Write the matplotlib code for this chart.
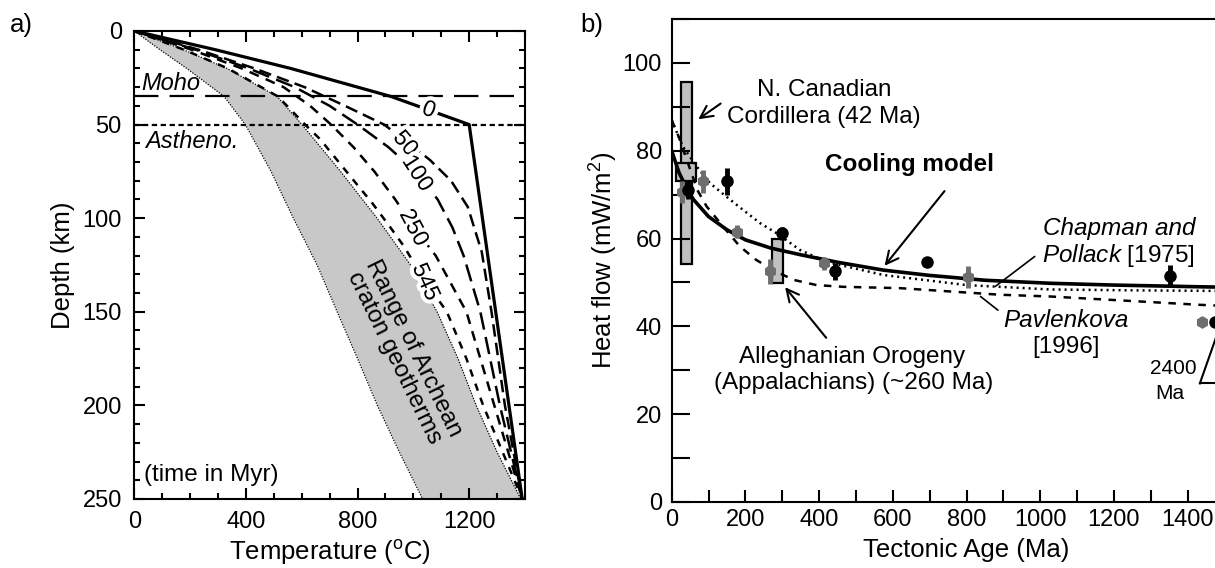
"""Two-panel figure: cooling geotherms (a) and heat flow vs tectonic age (b)."""

import matplotlib
matplotlib.use("Agg")
import matplotlib.pyplot as plt
import matplotlib.patheffects as pe
from matplotlib.patches import Rectangle
from matplotlib.ticker import MultipleLocator

plt.rcParams["font.family"] = ["Liberation Sans", "DejaVu Sans"]
plt.rcParams["mathtext.fontset"] = "custom"
plt.rcParams["mathtext.rm"] = "Liberation Sans"
plt.rcParams["mathtext.it"] = "Liberation Sans:italic"

FS = 17        # tick labels
FS_LAB = 18.5  # axis labels
FS_TXT = 17.5  # annotations

# === Panel a: geotherms (T in C, depth in km) ===
T_0 = [0, 290, 560, 920, 1200, 1390]
Z_0 = [0, 10, 20, 35, 50, 250]

Z_50 = [0, 10, 20, 30, 40, 50, 60, 69, 80, 94, 118, 150, 200, 250]
T_50 = [0, 230, 430, 610, 755, 895, 985, 1060, 1135, 1195, 1245, 1280, 1328, 1390]

Z_100 = [0, 10, 20, 30, 40, 50, 62, 76, 90, 105, 120, 150, 200, 250]
T_100 = [0, 220, 410, 575, 700, 800, 910, 1015, 1087, 1140, 1180, 1240, 1310, 1390]

Z_250 = [0, 10, 20, 30, 40, 50, 62, 75, 90, 105, 120, 150, 200, 250]
T_250 = [0, 205, 385, 535, 630, 705, 785, 860, 935, 1002, 1080, 1190, 1290, 1390]

Z_545 = [0, 10, 20, 35, 50, 58, 69, 80, 92, 105, 115, 133, 150, 175, 200, 225, 250]
T_545 = [0, 178, 335, 515, 612, 667, 727, 787, 853, 918, 966, 1039, 1120, 1190, 1250, 1320, 1390]

Z_SHADE = [0, 10, 20, 35, 50, 75, 100, 125, 150, 175, 200, 225, 250]
T_SHADE_LO = [0, 92, 188, 322, 398, 490, 570, 655, 727, 800, 871, 950, 1033]
T_SHADE_HI = [0, 176, 332, 512, 601, 739, 870, 990, 1085, 1160, 1225, 1300, 1385]

MOHO_DEPTH = 35
ASTHENO_DEPTH = 50

# inline curve labels: text, T, z, rotation
CURVE_LABELS = [("0", 1056, 42, -20), ("50", 972, 60, -50), ("100", 1015, 76, -57),
                ("250", 1002, 105, -62), ("545", 1045, 134, -66)]

# === Panel b: heat flow vs tectonic age ===
AGE_COOL = [0, 20, 45, 60, 100, 150, 200, 270, 350, 450, 575, 700, 850, 1030, 1200, 1440, 1600]
HF_COOL = [80, 75, 70.7, 68.8, 65, 62, 59.7, 57.8, 56.3, 54.6, 52.8, 51.6, 50.5, 49.8, 49.4, 49.0, 48.8]

AGE_CP = [0, 30, 68, 104, 149, 194, 240, 285, 348, 420, 574, 800, 1027, 1250, 1600]
HF_CP = [87, 81, 76.4, 72.6, 69.5, 66.5, 63.5, 61.2, 57.4, 54.7, 51.7, 49.4, 48.4, 48.2, 48.0]

AGE_PAV = [0, 20, 45, 70, 95, 140, 185, 230, 276, 330, 393, 466, 619, 891, 1027, 1434, 1600]
HF_PAV = [87, 83, 77, 71, 67.3, 62.7, 58.2, 55.1, 52.8, 50.6, 49.4, 49.0, 48.7, 47.2, 46.8, 44.9, 44.3]

AGE_BLACK = [45, 149, 299, 444, 694, 1351, 1473]
HF_BLACK = [71, 73, 61.2, 52.5, 54.6, 51.5, 41]
ERR_BLACK = [2, 3, 1.5, 2, 0, 2.5, 1]

AGE_GRAY = [27, 86, 178, 267, 414, 804, 1440]
HF_GRAY = [70.7, 73, 61.6, 52.5, 54.4, 51.3, 41.1]
ERR_GRAY = [2.5, 2.7, 1.5, 2.8, 1.5, 2.5, 1]

# boxes: age_min, age_max, hf_min, hf_max
BOX_CORDILLERA = (25, 54, 54.2, 95.7)
BOX_SMALL = (12, 66, 73, 77.2)
BOX_ALLEGHANIAN = (271, 303, 49.8, 60)

fig = plt.figure(figsize=(12.15, 5.68), dpi=100)

# ---------------- Panel a ----------------
ax = fig.add_axes([0.1105, 0.1215, 0.3216, 0.824])
ax.fill_betweenx(Z_SHADE, T_SHADE_LO, T_SHADE_HI, color="#c8c8c8", lw=0, zorder=1)
ax.plot(T_SHADE_LO, Z_SHADE, color="black", lw=0.9, ls=(0, (1, 1.2)), zorder=2)
ax.plot(T_SHADE_HI, Z_SHADE, color="black", lw=0.9, ls=(0, (1, 1.2)), zorder=2)

ax.axhline(MOHO_DEPTH, color="black", lw=1.6, ls=(0, (11, 5)), zorder=3)
ax.axhline(ASTHENO_DEPTH, color="black", lw=1.6, ls=(0, (2.4, 1.6)), zorder=3)

ax.plot(T_0, Z_0, color="black", lw=2.3, zorder=4)
ax.plot(T_50, Z_50, color="black", lw=1.8, ls=(0, (5, 2.5)), zorder=4)
ax.plot(T_100, Z_100, color="black", lw=1.8, ls=(0, (7, 3)), zorder=4)
ax.plot(T_250, Z_250, color="black", lw=1.8, ls=(0, (4, 3)), zorder=4)
ax.plot(T_545, Z_545, color="black", lw=1.8, ls=(0, (3, 3)), zorder=4)

# white halo around the inline labels breaks the curves under them
halo = [pe.withStroke(linewidth=6, foreground="white")]
for txt, t, z, rot in CURVE_LABELS:
    ax.text(t, z, txt, fontsize=FS_TXT - 1, rotation=rot, ha="center", va="center",
            rotation_mode="anchor", zorder=6, path_effects=halo)

ax.text(25, MOHO_DEPTH - 0.8, "Moho", fontsize=FS_TXT - 0.5, style="italic", va="bottom", zorder=5)
ax.text(40, 59, "Astheno.", fontsize=FS_TXT - 0.5, style="italic", va="center", zorder=5)
ax.text(35, 237, "(time in Myr)", fontsize=FS_TXT, va="center")
ax.text(965, 172, "Range of Archean\ncraton geotherms", fontsize=FS_TXT, rotation=-64,
        ha="center", va="center", rotation_mode="anchor", linespacing=1.0, zorder=5)

ax.set_xlim(0, 1400)
ax.set_ylim(250, 0)
ax.xaxis.set_major_locator(MultipleLocator(400))
ax.xaxis.set_minor_locator(MultipleLocator(100))
ax.yaxis.set_major_locator(MultipleLocator(50))
ax.yaxis.set_minor_locator(MultipleLocator(10))
ax.tick_params(which="both", direction="in", top=True, right=True, width=1.5,
               labelsize=FS)
ax.tick_params(which="major", length=8, pad=9)
ax.tick_params(which="minor", length=4.5)
for sp in ax.spines.values():
    sp.set_linewidth(1.5)
ax.set_xlabel("Temperature ($^{\\rm o}$C)", fontsize=FS_LAB, labelpad=3)
ax.set_ylabel("Depth (km)", fontsize=FS_LAB, labelpad=5)

# ---------------- Panel b ----------------
bx = fig.add_axes([0.5528, 0.1162, 0.4854, 0.8504])

for a0, a1, h0, h1 in (BOX_CORDILLERA, BOX_SMALL, BOX_ALLEGHANIAN):
    bx.add_patch(Rectangle((a0, h0), a1 - a0, h1 - h0, fc="#c0c0c0", ec="black",
                           lw=1.6, zorder=1))

bx.plot(AGE_CP, HF_CP, color="black", lw=1.8, ls=(0, (0.8, 1.6)), zorder=3)
bx.plot(AGE_PAV, HF_PAV, color="black", lw=1.8, ls=(0, (3, 3)), zorder=3)
bx.plot(AGE_COOL, HF_COOL, color="black", lw=2.6, zorder=4)

bx.errorbar(AGE_GRAY, HF_GRAY, yerr=ERR_GRAY, fmt="h", ms=8, color="#6e6e6e",
            ecolor="#6e6e6e", elinewidth=3.5, capsize=0, zorder=5, clip_on=False)
bx.errorbar(AGE_BLACK, HF_BLACK, yerr=ERR_BLACK, fmt="o", ms=8, color="black",
            ecolor="black", elinewidth=3.5, capsize=0, zorder=6, clip_on=False)

arrow = dict(arrowstyle="->", lw=1.5, color="black", mutation_scale=22)
line = dict(arrowstyle="-", lw=1.2, color="black")

bx.text(413, 93.8, "N. Canadian", fontsize=FS_TXT, ha="center", va="center")
bx.text(413, 87.7, "Cordillera (42 Ma)", fontsize=FS_TXT, ha="center", va="center")
bx.annotate("", xy=(66, 86.8), xytext=(139, 91.1), arrowprops=arrow)

bx.text(645, 76.9, "Cooling model", fontsize=FS_TXT, fontweight="bold", ha="center", va="center")
bx.annotate("", xy=(573, 53.3), xytext=(745, 71.3), arrowprops=arrow)

bx.text(1213, 62.2, "Chapman and", fontsize=FS_TXT, style="italic", ha="center", va="center")
bx.text(1213, 56.2, "$\\it{Pollack}$ [1975]", fontsize=FS_TXT, ha="center", va="center")
bx.annotate("", xy=(872, 48.7), xytext=(991, 56.3), arrowprops=line)

bx.text(1070, 41.4, "Pavlenkova", fontsize=FS_TXT, style="italic", ha="center", va="center")
bx.text(1070, 35.3, "[1996]", fontsize=FS_TXT, ha="center", va="center")
bx.annotate("", xy=(832, 47.2), xytext=(891, 43.3), arrowprops=line)

bx.text(490, 33.0, "Alleghanian Orogeny", fontsize=FS_TXT, ha="center", va="center")
bx.text(495, 27.1, "(Appalachians) (~260 Ma)", fontsize=FS_TXT, ha="center", va="center")
bx.annotate("", xy=(303, 49.4), xytext=(424, 36.9), arrowprops=arrow)

bx.text(1360, 30.5, "2400", fontsize=FS - 2, ha="center", va="center")
bx.text(1352, 24.8, "Ma", fontsize=FS - 2, ha="center", va="center")
bx.plot([1433, 1500], [27, 43], color="black", lw=1.5, clip_on=False)
bx.plot([1433, 1500], [27, 27], color="black", lw=1.5, clip_on=False)

bx.set_xlim(0, 1600)
bx.set_ylim(0, 110)
bx.xaxis.set_major_locator(MultipleLocator(200))
bx.xaxis.set_minor_locator(MultipleLocator(100))
bx.yaxis.set_major_locator(MultipleLocator(20))
bx.yaxis.set_minor_locator(MultipleLocator(10))
bx.tick_params(axis="y", which="both", direction="in", length=13, width=1.5, pad=7,
               labelsize=FS)
bx.tick_params(axis="x", which="both", direction="in", length=8.5, width=1.5, pad=5,
               labelsize=FS)
for sp in bx.spines.values():
    sp.set_linewidth(1.5)
bx.set_xlabel("Tectonic Age (Ma)", fontsize=FS_LAB, labelpad=5)
bx.set_ylabel("Heat flow (mW/m$^2$)", fontsize=FS_LAB, labelpad=2)

fig.text(0.008, 0.956, "a)", fontsize=FS_LAB, va="center")
fig.text(0.478, 0.956, "b)", fontsize=FS_LAB, va="center")

fig.savefig("out.png", dpi=100)
